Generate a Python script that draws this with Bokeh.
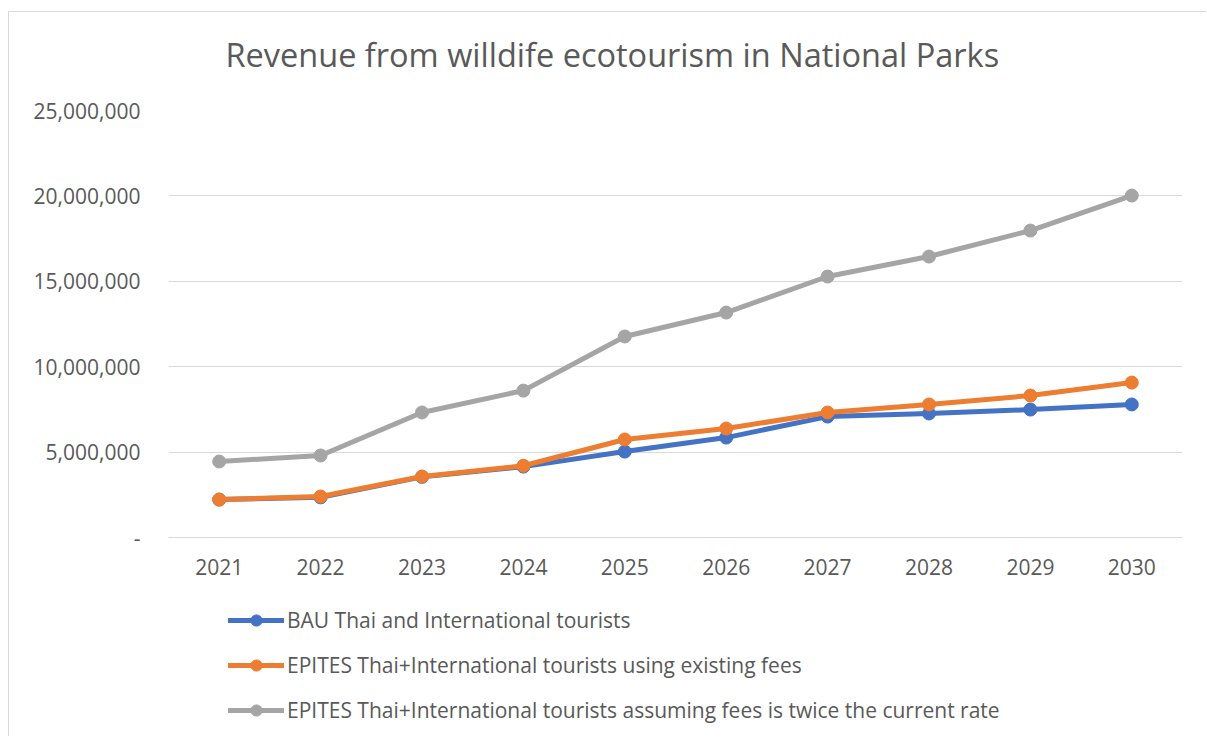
from bokeh.plotting import figure
from bokeh.models import (FactorRange, Range1d, FixedTicker, Legend, LegendItem)
from bokeh.layouts import column
from bokeh.embed import file_html
from bokeh.resources import INLINE

years = ["2021", "2022", "2023", "2024", "2025", "2026", "2027", "2028", "2029", "2030"]
bau = [2220000, 2350000, 3550000, 4150000, 5030000, 5850000, 7080000, 7260000, 7490000, 7790000]
epites = [2220000, 2400000, 3570000, 4200000, 5740000, 6380000, 7320000, 7790000, 8310000, 9070000]
epites_twice = [4450000, 4800000, 7320000, 8600000, 11770000, 13170000, 15280000, 16450000, 17970000, 20020000]
series_names = ["BAU Thai and International tourists",
                "EPITES Thai+International tourists using existing fees",
                "EPITES Thai+International tourists assuming fees is twice the current rate"]
series_colors = ["#4472C4", "#ED7D31", "#A5A5A5"]
y_ticks = [0, 5000000, 10000000, 15000000, 20000000, 25000000]
y_tick_labels = ["-", "5,000,000", "10,000,000", "15,000,000", "20,000,000", "25,000,000"]
title_text = "Revenue from willdife ecotourism in National Parks"

FONT = "Open Sans"
TXT = "#595959"
W = 1197

p = figure(x_range=FactorRange(*years, range_padding=0), y_range=Range1d(0, 25000000),
           width=W, height=578, output_backend="svg", toolbar_location=None,
           min_border_left=159, min_border_right=24, min_border_top=98, min_border_bottom=53)
p.outline_line_color = None
p.background_fill_color = "white"
p.border_fill_color = "white"

p.title.text = title_text
p.title.align = "left"
p.title.offset = 57
p.title.text_font = FONT
p.title.text_font_size = "32.5px"
p.title.text_font_style = "normal"
p.title.text_color = TXT
try:
    p.title.padding = (0, 0, 0, 34)
    p.title.standoff = 0
except Exception:
    p.title.standoff = 36

series_values = [bau, epites, epites_twice]
for vals, col in zip(series_values, series_colors):
    p.line(years, vals, line_color=col, line_width=5, line_join="round", line_cap="round")
    p.scatter(years, vals, size=13, fill_color=col, line_color=col, marker="circle")

p.xgrid.grid_line_color = None
p.ygrid.grid_line_color = "#d9d9d9"
p.ygrid.grid_line_width = 1

p.yaxis.ticker = FixedTicker(ticks=y_ticks)
p.yaxis.major_label_overrides = {t: lab for t, lab in zip(y_ticks, y_tick_labels)}
p.yaxis.axis_line_color = None
p.yaxis.major_tick_line_color = None
p.yaxis.minor_tick_line_color = None
p.yaxis.major_label_standoff = 22

p.xaxis.axis_line_color = "#d9d9d9"
p.xaxis.major_tick_line_color = None
p.xaxis.minor_tick_line_color = None
p.xaxis.major_label_standoff = 15

for ax in [p.xaxis[0], p.yaxis[0]]:
    ax.major_label_text_font = FONT
    ax.major_label_text_font_size = "21px"
    ax.major_label_text_color = TXT

# legend panel below the chart (its frame is aligned with the chart frame)
q = figure(x_range=FactorRange(*years, range_padding=0), y_range=Range1d(-2, -1),
           width=W, height=146, output_backend="svg", toolbar_location=None,
           min_border_left=0, min_border_right=0, min_border_top=0, min_border_bottom=0)
q.axis.visible = False
q.grid.visible = False
q.outline_line_color = None
q.border_fill_color = "white"
q.background_fill_color = "white"
items = []
for name, vals, col in zip(series_names, series_values, series_colors):
    l2 = q.line(years, vals, line_color=col, line_width=5, line_cap="round")
    s2 = q.scatter(years, vals, size=13, fill_color=col, line_color=col, marker="circle")
    items.append(LegendItem(label=name, renderers=[l2, s2]))

legend = Legend(items=items, location=(60, 12), orientation="vertical",
                label_text_font=FONT, label_text_font_size="21px", label_text_color=TXT,
                glyph_width=56, glyph_height=28, label_height=28, label_standoff=3,
                spacing=17, padding=0, margin=0, border_line_color=None,
                background_fill_alpha=0)
q.add_layout(legend, "center")

layout = column(p, q, margin=(11, 0, 0, 8),
                styles={"border-left": "1px solid #d9d9d9", "border-top": "1px solid #d9d9d9"})

open("out.html", "w").write(file_html(layout, INLINE))
